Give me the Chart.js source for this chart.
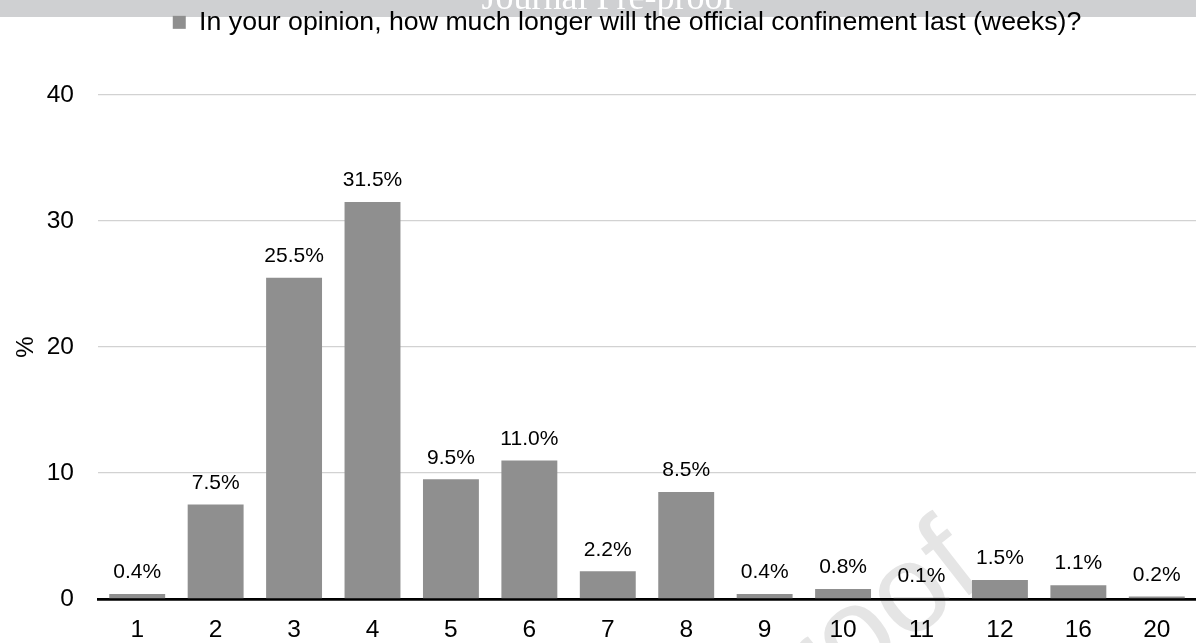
<!DOCTYPE html>
<html>
<head>
<meta charset="utf-8">
<title>Expected remaining confinement (weeks)</title>
<script src="https://cdn.jsdelivr.net/npm/chart.js@4.4.1/dist/chart.umd.min.js"></script>
<style>
  html, body { margin: 0; padding: 0; background: #ffffff; }
  #wrap { width: 1196px; height: 643px; }
</style>
</head>
<body>
<div id="wrap"><canvas id="chart" width="1196" height="643"></canvas></div>
<script>
// Survey answers: expected remaining weeks of confinement, share of respondents (%)
const weeks = ['1', '2', '3', '4', '5', '6', '7', '8', '9', '10', '11', '12', '16', '20'];
const percents = [0.4, 7.5, 25.5, 31.5, 9.5, 11.0, 2.2, 8.5, 0.4, 0.8, 0.1, 1.5, 1.1, 0.2];
const yTicks = [0, 10, 20, 30, 40];
const seriesName = 'In your opinion, how much longer will the official confinement last (weeks)?';
const yTitle = '%';
const bannerText = 'Journal Pre-proof';
const watermarkText = 'proof';

const SANS = '"Liberation Sans", Arial, Helvetica, sans-serif';
const SERIF = '"Liberation Serif", "Times New Roman", serif';
const BAR_GREY = '#8f8f8f';

// Page furniture: white page, grey banner strip with its title, faint diagonal watermark
const pageDecor = {
  id: 'pageDecor',
  beforeDraw(chart) {
    const ctx = chart.ctx;
    const w = chart.width, h = chart.height;
    ctx.save();
    ctx.fillStyle = '#ffffff';
    ctx.fillRect(0, 0, w, h);

    ctx.fillStyle = '#cfd0d2';
    ctx.fillRect(0, 0, w, 17);
    ctx.fillStyle = '#ffffff';
    ctx.font = '36px ' + SERIF;
    ctx.textAlign = 'center';
    ctx.textBaseline = 'alphabetic';
    ctx.fillText(bannerText, 608, 9);

    ctx.translate(763, 756);
    ctx.rotate(-38 * Math.PI / 180);
    ctx.fillStyle = '#e5e5e5';
    ctx.font = '125px ' + SANS;
    ctx.textAlign = 'left';
    ctx.fillText(watermarkText, 0, 0);
    ctx.restore();
  }
};

// Legend sizing: fixed band height above the plot and a nudge to the right
const legendBand = {
  id: 'legendBand',
  afterInit(chart) {
    const lg = chart.legend;
    if (!lg) return;
    const fit = lg.fit.bind(lg);
    lg.fit = function () {
      fit();
      this.height = 95;
    };
  },
  afterLayout(chart) {
    const lg = chart.legend;
    if (lg) lg.left += 58;
  }
};

// Value labels above each bar
const valueLabels = {
  id: 'valueLabels',
  afterDatasetsDraw(chart) {
    const ctx = chart.ctx;
    const meta = chart.getDatasetMeta(0);
    const data = chart.data.datasets[0].data;
    ctx.save();
    ctx.fillStyle = '#000000';
    ctx.font = '21px ' + SANS;
    ctx.textAlign = 'center';
    ctx.textBaseline = 'middle';
    meta.data.forEach((bar, i) => {
      ctx.fillText(data[i].toFixed(1) + '%', bar.x, bar.y - 21.5);
    });
    ctx.restore();
  }
};

new Chart(document.getElementById('chart'), {
  type: 'bar',
  data: {
    labels: weeks,
    datasets: [{
      label: seriesName,
      data: percents,
      backgroundColor: BAR_GREY,
      borderWidth: 0,
      barPercentage: 0.713,
      categoryPercentage: 1.0
    }]
  },
  options: {
    responsive: false,
    animation: false,
    devicePixelRatio: 1,
    layout: { padding: 0 },
    plugins: {
      legend: {
        position: 'top',
        labels: {
          font: { family: SANS, size: 26.7 },
          color: '#000000',
          boxWidth: 13,
          boxHeight: 13,
          padding: 9
        }
      },
      tooltip: { enabled: false }
    },
    scales: {
      x: {
        grid: { display: false, drawTicks: false },
        border: { display: true, color: '#000000', width: 2.7 },
        ticks: {
          font: { family: SANS, size: 24.5 },
          color: '#000000',
          padding: 17,
          maxRotation: 0,
          autoSkip: false
        },
        afterFit(scale) { scale.height = 44; }
      },
      y: {
        min: 0,
        max: 40,
        afterBuildTicks(scale) {
          scale.ticks = yTicks.map(v => ({ value: v }));
        },
        grid: {
          drawTicks: false,
          color: c => (c.tick && c.tick.value === 0) ? 'rgba(0,0,0,0)' : '#d2d2d2',
          lineWidth: 1.3
        },
        border: { display: false },
        ticks: {
          font: { family: SANS, size: 24.5 },
          color: '#000000',
          padding: 24
        },
        title: {
          display: true,
          text: yTitle,
          font: { family: SANS, size: 24 },
          color: '#000000',
          padding: { top: 12, bottom: 0 }
        },
        afterFit(scale) { scale.width = 98; }
      }
    }
  },
  plugins: [pageDecor, legendBand, valueLabels]
});
</script>
</body>
</html>
